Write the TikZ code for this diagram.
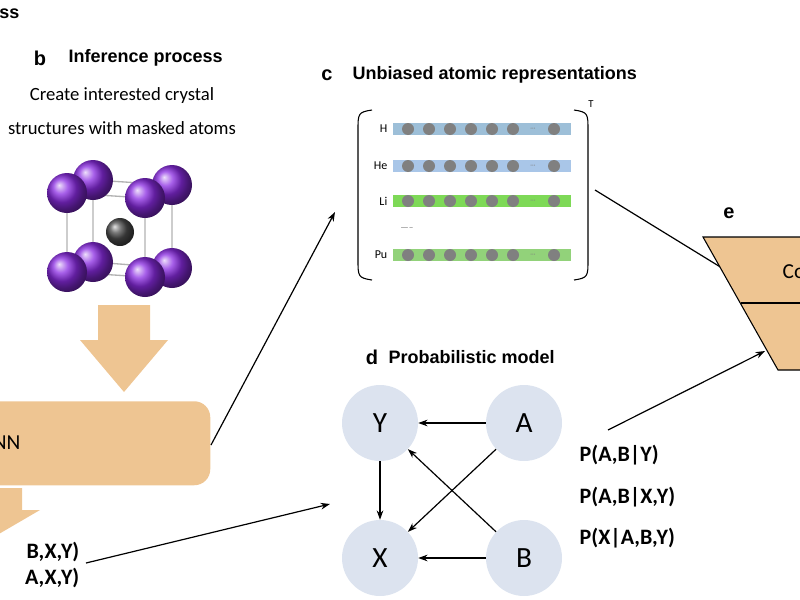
\documentclass[tikz,border=0pt]{standalone}
\usepackage{fontspec}
\setmainfont{Carlito}
\newfontfamily\hd{Liberation Sans}
\usetikzlibrary{arrows.meta}
\definecolor{org}{HTML}{EEC592}
\definecolor{cir}{HTML}{DCE3EF}
\definecolor{purp}{HTML}{8A2BE2}
\begin{document}
\begin{tikzpicture}[x=0.75pt,y=-0.75pt,
  head/.style={font=\hd\bfseries\fontsize{13.5}{15}\selectfont},
  lab/.style={font=\hd\bfseries\fontsize{15}{17}\selectfont},
  txt/.style={font=\fontsize{14}{16}\selectfont},
  pl/.style={font=\bfseries\fontsize{16.5}{18}\selectfont, anchor=west},
  arr/.style={-{Stealth[length=7pt,width=5pt]}, line width=0.9pt},
  pc/.style={circle, fill=cir, minimum size=57pt, font=\fontsize{22}{24}\selectfont},
  atom/.style={ball color=purp, circle, minimum size=30pt, inner sep=0pt},
  dot/.style={circle, fill=gray, minimum size=9pt, inner sep=0pt}]
\useasboundingbox (0,0) rectangle (800,600);
\node[head, anchor=east] (ess) at (24,14) {ess};
% b
\node[lab] (bl) at (40,58) {b};
\node[head, anchor=west] (bt) at (64,58) {Inference process};
\node[txt] (t1) at (122,96) {Create interested crystal};
\node[txt] (t2) at (122,128) {structures with masked atoms};
% crystal
\draw[gray!60, line width=1pt] (93,180) -- (172,185) -- (172,268) -- (93,262) -- cycle;
\draw[gray!60, line width=1pt] (67,193) -- (145,198) -- (145,277) -- (67,272) -- cycle;
\draw[gray!60, line width=1pt] (93,180)--(67,193) (172,185)--(145,198) (172,268)--(145,277) (93,262)--(67,272);
\node[atom] (a1) at (93,180) {};
\node[atom] (a2) at (172,185) {};
\node[atom] (a3) at (93,262) {};
\node[atom] (a4) at (172,268) {};
\node[ball color=black!70, circle, minimum size=21pt, inner sep=0pt] (cen) at (120,232) {};
\node[atom] (a5) at (67,193) {};
\node[atom] (a6) at (145,198) {};
\node[atom] (a7) at (67,272) {};
\node[atom] (a8) at (145,277) {};
% big arrows
\fill[org] (98,305) -- (150,305) -- (150,340) -- (168,340) -- (124,392) -- (80,340) -- (98,340) -- cycle;
\node[fill=org, rounded corners=12pt, minimum width=172.5pt, minimum height=63pt, anchor=north west] (nn) at (-20,401) {};
\node[font=\fontsize{16}{18}\selectfont, anchor=east] (nnt) at (25,443) {GNN};
\fill[org] (-30,488) -- (22,488) -- (22,510) -- (40,510) -- (-20,545) -- cycle;
\node[pl, anchor=east] (p1b) at (84,552) {B,X,Y)};
\node[pl, anchor=east] (p2b) at (84,578) {A,X,Y)};
\coordinate (dt) at (330,504);
\draw[arr] (86,563) -- (dt);
\coordinate (ct) at (335,212);
\draw[arr] (211,445) -- (ct);
% c
\node[lab] (cl) at (327,75) {c};
\node[head, anchor=west] (ctt) at (348,75) {Unbiased atomic representations};
\draw[line width=0.8pt] (372,110) .. controls (358,112) and (358,114) .. (358,130) -- (358,260) .. controls (358,276) and (358,278) .. (372,280);
\draw[line width=0.8pt] (574,110) .. controls (588,112) and (588,114) .. (588,130) -- (588,260) .. controls (588,276) and (588,278) .. (574,280);
\node[font=\fontsize{8}{9}\selectfont] (T) at (591,104) {T};
\foreach \y/\c/\l in {129/9DBFD8/H,166/A9C6E8/He,201/7ED957/Li,255/92D27A/Pu}{
  \definecolor{rc}{HTML}{\c}
  \fill[rc] (393,\y-6) rectangle (571,\y+6);
  \node[font=\fontsize{9}{10}\selectfont, anchor=east] at (392,\y) {\l};
  \foreach \x in {408,429,450,471,492,513,554}{\node[dot] at (\x,\y) {};}
  \node[font=\fontsize{5}{6}\selectfont, gray] at (533,\y) {···};
}
\node[gray, font=\fontsize{7}{8}\selectfont] (dd) at (407,229) {-----};
\coordinate (et) at (735,276);
\draw[arr] (595,190) -- (et);
% e
\node[lab] (el) at (729,213) {e};
\filldraw[fill=org, line width=0.8pt] (703,237) -- (810,237) -- (810,370) -- (778,370) -- cycle;
\draw[line width=0.8pt] (741,303) -- (810,303);
\node[font=\fontsize{16}{18}\selectfont, anchor=west] (co) at (778,272) {Co};
\coordinate (eb) at (765,351);
\draw[arr] (608,430) -- (eb);
% d
\node[lab] (dl) at (372,357) {d};
\node[head, anchor=west] (dtt) at (384,357) {Probabilistic model};
\node[pc] (Y) at (380,423) {Y};
\node[pc] (A) at (524,423) {A};
\node[pc] (X) at (380,558) {X};
\node[pc] (B) at (524,558) {B};
\draw[arr] (A) -- (Y);
\draw[arr] (B) -- (X);
\draw[arr] (Y) -- (X);
\draw[arr] (A) -- (X);
\draw[arr] (B) -- (Y);
\node[pl] (q1) at (575,455) {P(A,B|Y)};
\node[pl] (q2) at (575,497) {P(A,B|X,Y)};
\node[pl] (q3) at (575,538) {P(X|A,B,Y)};
\end{tikzpicture}
\end{document}
